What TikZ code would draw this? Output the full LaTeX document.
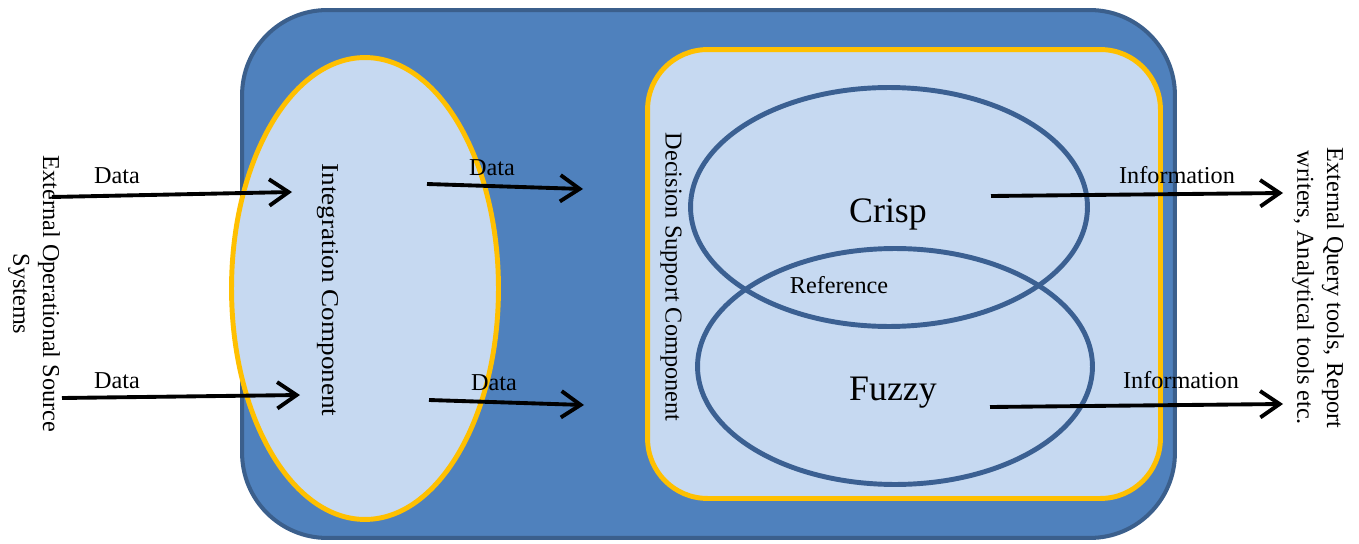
\documentclass[tikz,border=0pt]{standalone}
\usepackage{fontspec}
\setmainfont{Liberation Serif}
\newfontfamily\stretchedserif[FakeStretch=1.12]{Liberation Serif}
\usetikzlibrary{arrows.meta,shapes.geometric}
\definecolor{panelblue}{HTML}{4F81BD}
\definecolor{paneledge}{HTML}{3B5F8C}
\definecolor{paleblue}{HTML}{C6D9F1}
\definecolor{amber}{HTML}{FFC000}
\definecolor{vennedge}{HTML}{3B6092}
\begin{document}
\begin{tikzpicture}[x=0.02cm,y=-0.02cm,
  lbl/.style={font=\fontsize{13.8pt}{17pt}\selectfont, inner sep=0pt},
  biglbl/.style={font=\fontsize{20.4pt}{24pt}\selectfont, inner sep=0pt},
  vlbl/.style={lbl, rotate=-90, align=center},
  flow/.style={line width=2.2pt, -{Straight Barb[length=11pt,width=15pt,line width=2.2pt]}},
  panel/.style={draw=paneledge, fill=panelblue, line width=2.3pt, rounded corners=1.7cm,
    inner sep=0pt},
  zone/.style={draw=amber, fill=paleblue, line width=2.8pt, inner sep=0pt},
  venn/.style={draw=vennedge, ellipse, line width=2.8pt, inner sep=0pt}]
\useasboundingbox (0,0) rectangle (1359,544);

% outer warehouse panel
\node[panel, minimum width=18.66cm, minimum height=10.56cm] (outer) at (708.5,274) {};

% integration component
\node[zone, ellipse, minimum width=5.34cm, minimum height=9.24cm] (integ) at (365,288.5) {};
\node[lbl, rotate=-90, font=\stretchedserif\fontsize{13.8pt}{17pt}\selectfont] (integlbl) at (328,290) {Integration Component};

% decision support component
\node[zone, rounded corners=1.2cm, minimum width=10.26cm, minimum height=8.98cm] (dsc) at (904,274) {};
\node[vlbl] (dsclbl) at (671,277) {Decision Support Component};

% crisp / fuzzy overlap
\node[venn, minimum width=7.94cm, minimum height=4.78cm] (crisp) at (889,207) {};
\node[venn, minimum width=7.9cm, minimum height=4.72cm] (fuzzy) at (895,366.5) {};
\node[biglbl, anchor=base] (crisplbl) at (888,222) {Crisp};
\node[biglbl, anchor=base] (fuzzylbl) at (893,400) {Fuzzy};
\node[lbl, anchor=base] (reflbl) at (839,293) {Reference};

% external sides
\node[vlbl, font=\fontsize{13.8pt}{17pt}\selectfont] (src) at (34,294) {External Operational Source\\Systems};
\node[vlbl, font=\fontsize{13.8pt}{17pt}\selectfont] (tools) at (1318,288) {External Query tools, Report\\writers, Analytical tools etc.};

% flow end points
\coordinate (a1s) at (52,197);   \coordinate (a1e) at (292,192);
\coordinate (a2s) at (62,398);   \coordinate (a2e) at (300,395);
\coordinate (a3s) at (427,184);  \coordinate (a3e) at (583,189);
\coordinate (a4s) at (429,400);  \coordinate (a4e) at (584,405);
\coordinate (i1s) at (991,196);  \coordinate (i1e) at (1283,193);
\coordinate (i2s) at (990,407);  \coordinate (i2e) at (1283,404);

\draw[flow] (a1s) -- (a1e);
\draw[flow] (a2s) -- (a2e);
\draw[flow] (a3s) -- (a3e);
\draw[flow] (a4s) -- (a4e);
\draw[flow] (i1s) -- (i1e);
\draw[flow] (i2s) -- (i2e);

\node[lbl, anchor=base] (d1) at (117,183) {Data};
\node[lbl, anchor=base] (d2) at (117,388) {Data};
\node[lbl, anchor=base] (d3) at (492,175) {Data};
\node[lbl, anchor=base] (d4) at (494,390) {Data};
\node[lbl, anchor=base] (inf1) at (1177,183) {Information};
\node[lbl, anchor=base] (inf2) at (1181,388) {Information};
\end{tikzpicture}
\end{document}
